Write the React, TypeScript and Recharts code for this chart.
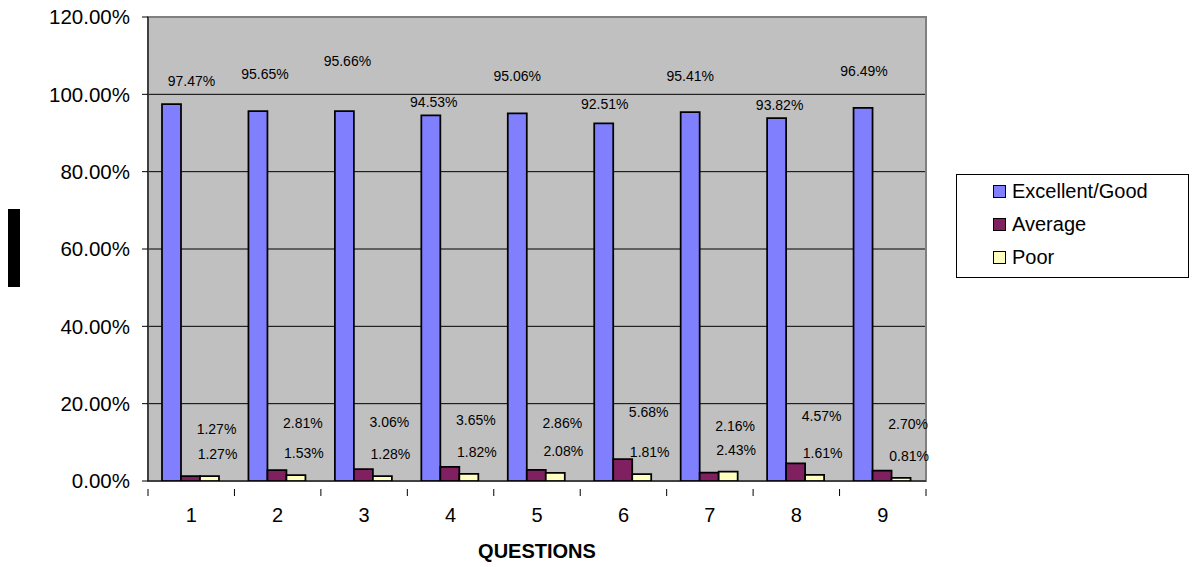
import {
  Bar,
  BarChart,
  CartesianGrid,
  LabelList,
  ReferenceArea,
  XAxis,
  YAxis,
} from "recharts";

const QUESTIONS = ["1", "2", "3", "4", "5", "6", "7", "8", "9"];
const EXCELLENT = [97.47, 95.65, 95.66, 94.53, 95.06, 92.51, 95.41, 93.82, 96.49];
const AVERAGE = [1.27, 2.81, 3.06, 3.65, 2.86, 5.68, 2.16, 4.57, 2.7];
const POOR = [1.27, 1.53, 1.28, 1.82, 2.08, 1.81, 2.43, 1.61, 0.81];
const Y_TICKS = [0, 20, 40, 60, 80, 100, 120];

const SERIES = [
  { key: "excellent", label: "Excellent/Good", color: "#8080ff" },
  { key: "average", label: "Average", color: "#802060" },
  { key: "poor", label: "Poor", color: "#ffffc0" },
];

// Excel scattered the top labels at uneven heights above the bars
const EXC_LABEL_LIFT = [23, 37, 50, 13, 37, 19, 36, 13, 37];
const EXC_LABEL_DX = [20, 7, 3, 3, 0, 1, 0, 3, 1];

const data = QUESTIONS.map((q, i) => ({
  q,
  excellent: EXCELLENT[i],
  average: AVERAGE[i],
  poor: POOR[i],
}));

const FONT = "'Liberation Sans', Arial, sans-serif";
const W = 1192;
const H = 567;
const LEFT = 148;
const RIGHT = 266;
const TOP = 17;
const X_AXIS_H = 86;
const BAND = (W - LEFT - RIGHT) / QUESTIONS.length;

const pct = (v: number) => `${v.toFixed(2)}%`;

function XTick(props: any) {
  const { x, y, payload, index } = props;
  const half = BAND / 2;
  return (
    <g>
      <line x1={x - half} x2={x - half} y1={y} y2={y + 7} stroke="#000" />
      {index === QUESTIONS.length - 1 && (
        <line x1={x + half} x2={x + half} y1={y} y2={y + 7} stroke="#000" />
      )}
      <text x={x} y={y + 26} textAnchor="middle" dominantBaseline="central" fontSize={20} fill="#000" fontFamily={FONT}>
        {payload.value}
      </text>
    </g>
  );
}

function barLabel(lift: (i: number) => number, dx: (i: number) => number) {
  return (props: any) => {
    const { x, y, width, value, index } = props;
    return (
      <text
        x={Number(x) + Number(width) / 2 + dx(index)}
        y={Number(y) - lift(index)}
        textAnchor="middle"
        dominantBaseline="central"
        fontSize={14}
        fill="#000"
        fontFamily={FONT}
      >
        {pct(Number(value))}
      </text>
    );
  };
}

function LegendBox() {
  return (
    <div
      style={{
        position: "absolute",
        left: 956,
        top: 174,
        width: 233,
        height: 104,
        border: "1px solid #000",
        background: "#fff",
        boxSizing: "border-box",
        fontFamily: FONT,
        fontSize: 20,
      }}
    >
      {SERIES.map((s, i) => (
        <div
          key={s.key}
          style={{ position: "absolute", left: 36, top: 3 + i * 33, display: "flex", alignItems: "center", height: 26 }}
        >
          <span
            style={{
              width: 11,
              height: 11,
              background: s.color,
              border: "1.5px solid #000",
              marginRight: 6,
              display: "inline-block",
            }}
          />
          <span style={{ color: "#000" }}>{s.label}</span>
        </div>
      ))}
    </div>
  );
}

export default function App() {
  return (
    <div style={{ position: "absolute", left: 0, top: 0, width: W, height: H, background: "#fff" }}>
      <BarChart
        width={W}
        height={H}
        data={data}
        margin={{ top: TOP, right: RIGHT, bottom: 0, left: 0 }}
        barCategoryGap={14}
        barGap={0}
      >
        <CartesianGrid
          vertical={false}
          horizontalValues={[20, 40, 60, 80, 100]}
          stroke="#000"
          fill="#c0c0c0"
          fillOpacity={1}
        />
        <ReferenceArea y1={0} y2={120} fill="none" stroke="#808080" strokeWidth={2} ifOverflow="visible" />
        <XAxis
          dataKey="q"
          height={X_AXIS_H}
          axisLine={{ stroke: "#000" }}
          tickLine={false}
          tick={<XTick />}
          interval={0}
          label={{
            content: (p: any) => (
              <text
                x={p.viewBox.x + p.viewBox.width / 2}
                y={p.viewBox.y + 70}
                textAnchor="middle"
                dominantBaseline="central"
                fontSize={20}
                fontWeight={700}
                fill="#000"
                fontFamily={FONT}
              >
                QUESTIONS
              </text>
            ),
          }}
        />
        <YAxis
          width={LEFT}
          domain={[0, 120]}
          ticks={Y_TICKS}
          tickFormatter={(v) => pct(Number(v))}
          tick={{ fontSize: 20.5, fill: "#000", fontFamily: FONT }}
          tickSize={6}
          tickMargin={12}
          tickLine={{ stroke: "#000" }}
          axisLine={{ stroke: "#000" }}
          allowDataOverflow
          label={{
            content: (p: any) => (
              <rect
                x={8}
                y={p.viewBox.y + p.viewBox.height / 2 - 40}
                width={12}
                height={78}
                fill="#000"
              />
            ),
          }}
        />
        <Bar dataKey="excellent" name="Excellent/Good" fill="#8080ff" stroke="#000" strokeWidth={1.75} isAnimationActive={false}>
          <LabelList
            dataKey="excellent"
            content={barLabel((i) => EXC_LABEL_LIFT[i] ?? 25, (i) => EXC_LABEL_DX[i] ?? 0)}
          />
        </Bar>
        <Bar dataKey="average" name="Average" fill="#802060" stroke="#000" strokeWidth={1.75} isAnimationActive={false}>
          <LabelList dataKey="average" content={barLabel(() => 47, () => 26)} />
        </Bar>
        <Bar dataKey="poor" name="Poor" fill="#ffffc0" stroke="#000" strokeWidth={1.75} isAnimationActive={false}>
          <LabelList dataKey="poor" content={barLabel(() => 22, () => 8)} />
        </Bar>
      </BarChart>
      <LegendBox />
    </div>
  );
}
